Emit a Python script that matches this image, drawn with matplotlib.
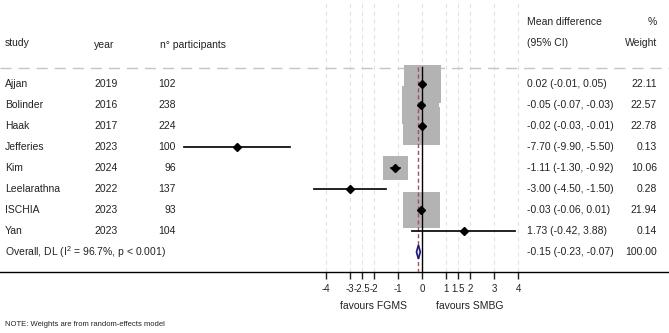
import matplotlib
matplotlib.use("Agg")
import matplotlib.pyplot as plt
import matplotlib.transforms as mtransforms
from matplotlib.patches import Rectangle, Polygon

plt.rcParams["font.family"] = ["Liberation Sans", "DejaVu Sans"]
plt.rcParams["mathtext.fontset"] = "custom"
plt.rcParams["mathtext.rm"] = "Liberation Sans"

studies = ["Ajjan", "Bolinder", "Haak", "Jefferies", "Kim", "Leelarathna", "ISCHIA", "Yan"]
years = [2019, 2016, 2017, 2023, 2024, 2022, 2023, 2023]
participants = [102, 238, 224, 100, 96, 137, 93, 104]
md = [0.02, -0.05, -0.02, -7.70, -1.11, -3.00, -0.03, 1.73]
ci_low = [-0.01, -0.07, -0.03, -9.90, -1.30, -4.50, -0.06, -0.42]
ci_high = [0.05, -0.03, -0.01, -5.50, -0.92, -1.50, 0.01, 3.88]
weights = [22.11, 22.57, 22.78, 0.13, 10.06, 0.28, 21.94, 0.14]
overall = (-0.15, -0.23, -0.07)
overall_weight = 100.00
overall_label = "Overall, DL (I$^{2}$ = 96.7%, p < 0.001)"
ticks = [-4, -3, -2.5, -2, -1, 0, 1, 1.5, 2, 3, 4]
tick_labels = ["-4", "-3", "-2.5", "-2", "-1", "0", "1", "1.5", "2", "3", "4"]

W, H = 669, 333
PX_PER_UNIT = 24.0
ZERO_PX = 422.0
ROW0_PX, ROW_PX = 84.0, 21.0
AXIS_PX = 272.0


def row_of(py):
    return (py - ROW0_PX) / ROW_PX


fig = plt.figure(figsize=(W / 100, H / 100), dpi=100)
ax = fig.add_axes([0, (H - AXIS_PX) / H, 1, AXIS_PX / H])
ax.set_xlim(-ZERO_PX / PX_PER_UNIT, (W - ZERO_PX) / PX_PER_UNIT)
ax.set_ylim(row_of(AXIS_PX), row_of(0))

for s in ["top", "left", "right"]:
    ax.spines[s].set_visible(False)
ax.spines["bottom"].set_linewidth(1.0)
ax.set_yticks([])
ax.set_xticks(ticks)
ax.set_xticklabels(tick_labels)
ax.tick_params(axis="x", direction="out", length=5, width=1, labelsize=7,
               pad=4, colors="#222222")
ax.grid(axis="x", color="#e3e3e3", linestyle=(0, (4, 3)), linewidth=0.8)
ax.set_axisbelow(True)

# header separator
ax.axhline(row_of(68), color="#c4c4c4", linestyle=(0, (8, 5)), linewidth=1.0)

# study boxes, area ~ weight
k = 7.87
for i, w in enumerate(weights):
    side = k * w ** 0.5
    bw = side / PX_PER_UNIT
    bh = side / ROW_PX
    ax.add_patch(Rectangle((md[i] - bw / 2, i - bh / 2), bw, bh,
                           facecolor="#b3b3b3", edgecolor="none", zorder=2))

# reference lines
top = row_of(67)
ax.plot([0, 0], [top, row_of(AXIS_PX)], color="black", lw=1.0, zorder=3)
ax.plot([overall[0], overall[0]], [top, row_of(AXIS_PX)], color="#a0505e",
        lw=1.0, linestyle=(0, (3, 2)), zorder=3)

# CIs and point estimates
for i in range(len(studies)):
    ax.plot([ci_low[i], ci_high[i]], [i, i], color="#111111", lw=1.3, zorder=4)
    ax.plot(md[i], i, marker="D", color="black", markersize=4, zorder=5)

# overall diamond
yo = len(studies)
dh = 0.33
ax.add_patch(Polygon([(overall[1], yo), (overall[0], yo - dh), (overall[2], yo),
                      (overall[0], yo + dh)], closed=True,
                     facecolor="#e6e6f4", edgecolor="#1c1c78", lw=1.2, zorder=5))

# text columns
tr = mtransforms.blended_transform_factory(ax.transAxes, ax.transData)
fs = 7.5
col = "#222222"


def put(px, row, s, ha="left", size=fs):
    ax.text(px / W, row, s, transform=tr, ha=ha, va="center", fontsize=size,
            color=col)


put(5, row_of(43), "study")
put(94, row_of(45), "year")
put(160, row_of(45), "n° participants")
put(527, row_of(22), "Mean difference")
put(527, row_of(43), "(95% CI)")
put(657, row_of(22), "%", ha="right")
put(657, row_of(43), "Weight", ha="right")

for i in range(len(studies)):
    put(5, i, studies[i])
    put(94, i, str(years[i]))
    put(176, i, str(participants[i]), ha="right")
    put(527, i, f"{md[i]:.2f} ({ci_low[i]:.2f}, {ci_high[i]:.2f})")
    put(657, i, f"{weights[i]:.2f}", ha="right")

put(5, yo, overall_label)
put(527, yo, f"{overall[0]:.2f} ({overall[1]:.2f}, {overall[2]:.2f})")
put(657, yo, f"{overall_weight:.2f}", ha="right")

fig.text(373 / W, 1 - 306 / H, "favours FGMS", ha="center", va="center",
         fontsize=fs, color=col)
fig.text(470 / W, 1 - 306 / H, "favours SMBG", ha="center", va="center",
         fontsize=fs, color=col)
fig.text(5 / W, 1 - 325 / H, "NOTE: Weights are from random-effects model",
         ha="left", va="center", fontsize=5.5, color=col)

fig.savefig("out.png", dpi=100)
